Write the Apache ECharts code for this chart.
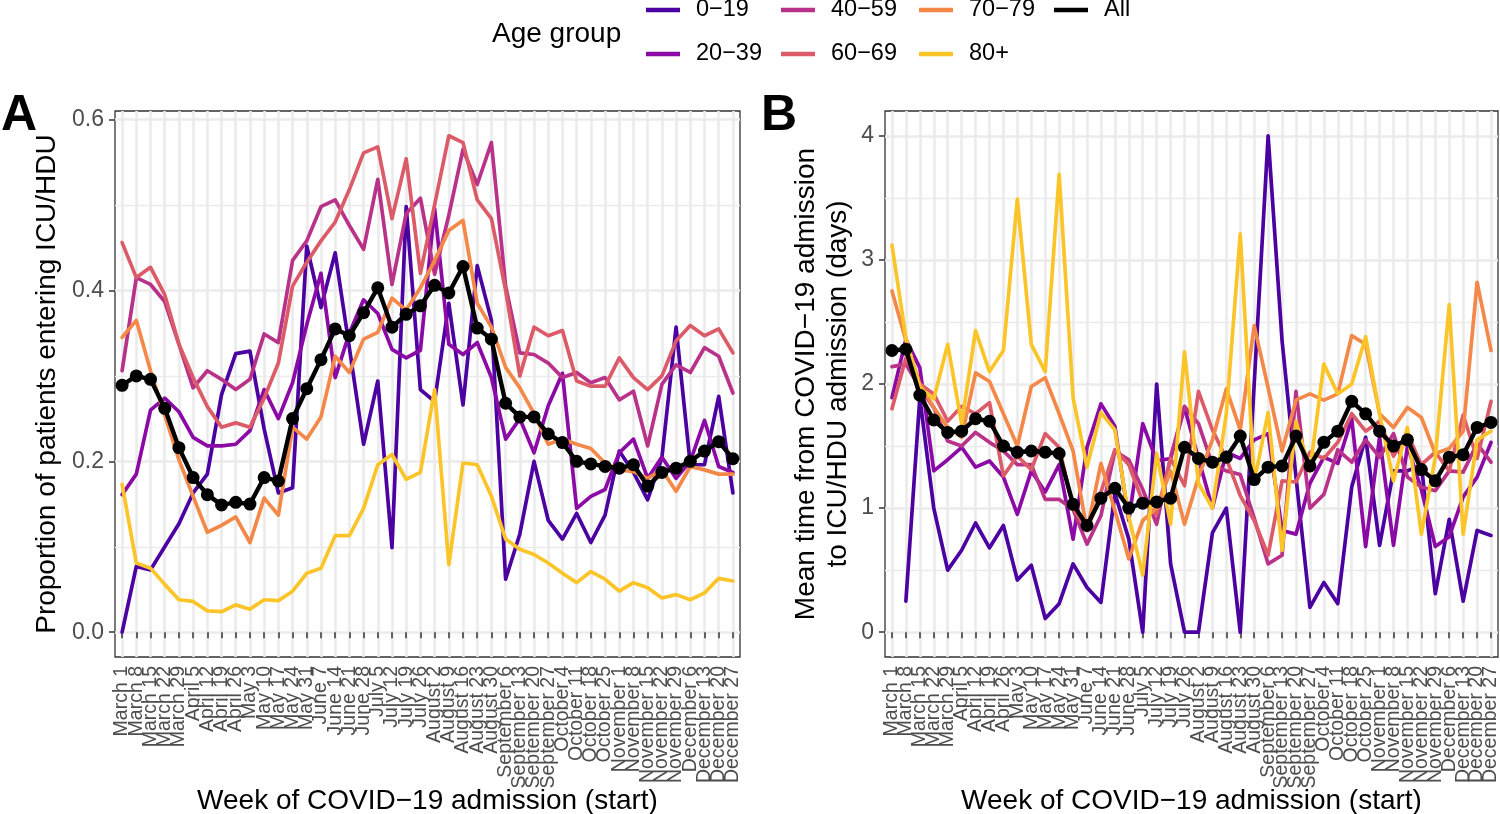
<!DOCTYPE html>
<html>
<head>
<meta charset="utf-8">
<title>ICU/HDU admission by age group</title>
<script src="https://cdn.jsdelivr.net/npm/echarts@6/dist/echarts.min.js"></script>
<style>
html, body { margin: 0; padding: 0; background: #fff; }
#chart { width: 1500px; height: 814px; }
</style>
</head>
<body>
<div id="chart"></div>
<script>
// week starts (x categories, shared by both panels)
var weeks = ['March 1', 'March 8', 'March 15', 'March 22', 'March 29', 'April 5', 'April 12', 'April 19', 'April 26',
    'May 3', 'May 10', 'May 17', 'May 24', 'May 31', 'June 7', 'June 14', 'June 21', 'June 28',
    'July 5', 'July 12', 'July 19', 'July 26', 'August 2', 'August 9', 'August 16', 'August 23', 'August 30',
    'September 6', 'September 13', 'September 20', 'September 27', 'October 4', 'October 11', 'October 18', 'October 25',
    'November 1', 'November 8', 'November 15', 'November 22', 'November 29', 'December 6', 'December 13', 'December 20', 'December 27'];

var ageGroups = ['0−19', '20−39', '40−59', '60−69', '70−79', '80+'];

// A: proportion of patients entering ICU/HDU
var propAll = [0.289, 0.300, 0.296, 0.262, 0.216, 0.181, 0.161, 0.149, 0.152, 0.150, 0.181, 0.177, 0.250, 0.285, 0.319, 0.355, 0.347, 0.374, 0.403, 0.357, 0.372, 0.382, 0.406, 0.397, 0.428, 0.356, 0.343, 0.268, 0.252, 0.252, 0.232, 0.222, 0.200, 0.197, 0.194, 0.192, 0.196, 0.171, 0.187, 0.192, 0.200, 0.212, 0.223, 0.203];
var prop0_19 = [0.000, 0.077, 0.073, 0.100, 0.127, 0.163, 0.185, 0.278, 0.326, 0.329, 0.238, 0.163, 0.169, 0.452, 0.380, 0.444, 0.333, 0.220, 0.294, 0.099, 0.498, 0.284, 0.270, 0.385, 0.266, 0.429, 0.365, 0.062, 0.115, 0.200, 0.131, 0.109, 0.139, 0.105, 0.137, 0.212, 0.187, 0.155, 0.204, 0.357, 0.196, 0.196, 0.276, 0.163];
var prop20_39 = [0.161, 0.185, 0.260, 0.274, 0.258, 0.228, 0.218, 0.218, 0.220, 0.236, 0.284, 0.250, 0.292, 0.360, 0.420, 0.298, 0.350, 0.389, 0.373, 0.331, 0.321, 0.330, 0.496, 0.337, 0.325, 0.339, 0.298, 0.226, 0.250, 0.210, 0.265, 0.303, 0.145, 0.159, 0.167, 0.210, 0.226, 0.180, 0.205, 0.180, 0.200, 0.248, 0.194, 0.187];
var prop40_59 = [0.306, 0.415, 0.407, 0.387, 0.337, 0.286, 0.306, 0.296, 0.284, 0.296, 0.349, 0.339, 0.435, 0.458, 0.498, 0.506, 0.476, 0.448, 0.530, 0.407, 0.490, 0.508, 0.419, 0.488, 0.565, 0.524, 0.573, 0.405, 0.327, 0.325, 0.315, 0.298, 0.304, 0.292, 0.298, 0.272, 0.282, 0.218, 0.290, 0.313, 0.304, 0.333, 0.323, 0.280];
var prop60_69 = [0.456, 0.415, 0.427, 0.395, 0.337, 0.298, 0.264, 0.240, 0.245, 0.240, 0.274, 0.315, 0.405, 0.433, 0.458, 0.480, 0.518, 0.561, 0.568, 0.484, 0.554, 0.420, 0.500, 0.581, 0.573, 0.506, 0.484, 0.400, 0.300, 0.357, 0.347, 0.353, 0.294, 0.288, 0.288, 0.321, 0.298, 0.284, 0.300, 0.341, 0.359, 0.347, 0.355, 0.327];
var prop70_79 = [0.345, 0.365, 0.306, 0.254, 0.202, 0.159, 0.117, 0.125, 0.135, 0.105, 0.157, 0.137, 0.240, 0.226, 0.252, 0.323, 0.304, 0.343, 0.351, 0.391, 0.377, 0.403, 0.435, 0.470, 0.482, 0.385, 0.357, 0.310, 0.286, 0.256, 0.220, 0.226, 0.220, 0.215, 0.198, 0.190, 0.188, 0.180, 0.190, 0.165, 0.194, 0.190, 0.185, 0.185];
var prop80 = [0.173, 0.081, 0.075, 0.056, 0.038, 0.036, 0.025, 0.024, 0.032, 0.027, 0.038, 0.037, 0.048, 0.069, 0.075, 0.113, 0.113, 0.145, 0.196, 0.208, 0.179, 0.187, 0.284, 0.079, 0.198, 0.196, 0.159, 0.109, 0.097, 0.091, 0.081, 0.069, 0.058, 0.071, 0.062, 0.048, 0.058, 0.052, 0.040, 0.044, 0.038, 0.046, 0.063, 0.060];

// B: mean days from COVID-19 admission to ICU/HDU admission
var timeAll = [2.27, 2.28, 1.91, 1.71, 1.61, 1.62, 1.72, 1.70, 1.50, 1.45, 1.46, 1.45, 1.44, 1.03, 0.86, 1.08, 1.16, 1.00, 1.04, 1.05, 1.08, 1.49, 1.40, 1.37, 1.41, 1.58, 1.23, 1.33, 1.34, 1.58, 1.34, 1.53, 1.62, 1.86, 1.76, 1.62, 1.50, 1.55, 1.31, 1.22, 1.41, 1.43, 1.65, 1.69];
var time0_19 = [null, 0.25, 1.89, 1.00, 0.50, 0.66, 0.88, 0.68, 0.86, 0.42, 0.54, 0.11, 0.23, 0.55, 0.36, 0.24, 1.12, 0.75, 0.00, 2.00, 0.55, 0.00, 0.00, 0.80, 1.00, 0.00, 2.00, 4.00, 2.35, 1.25, 0.20, 0.40, 0.23, 1.17, 1.57, 0.70, 1.30, 1.30, 1.35, 0.31, 0.91, 0.25, 0.82, 0.78];
var time20_39 = [1.89, 2.36, 2.13, 1.30, 1.39, 1.49, 1.33, 1.38, 1.25, 0.95, 1.30, 1.13, 1.35, 0.75, 1.49, 1.84, 1.66, 0.90, 1.68, 1.38, 1.40, 1.81, 1.40, 1.00, 1.45, 1.40, 1.55, 1.60, 0.82, 0.79, 1.20, 1.41, 1.36, 1.72, 0.69, 1.57, 0.70, 1.50, 1.15, 0.69, 0.77, 1.09, 1.25, 1.53];
var time40_59 = [2.14, 2.16, 1.97, 1.81, 1.54, 1.50, 1.61, 1.53, 1.46, 1.35, 1.35, 1.07, 1.07, 0.99, 0.71, 0.94, 1.46, 1.39, 1.15, 0.87, 1.41, 1.82, 1.68, 1.35, 1.30, 1.27, 0.92, 0.55, 0.62, 1.94, 1.00, 1.11, 1.47, 1.37, 1.55, 1.41, 1.60, 1.25, 1.17, 1.14, 1.30, 1.29, 1.52, 1.37];
var time60_69 = [1.80, 2.21, 2.00, 1.92, 1.70, 1.82, 1.76, 1.85, 1.26, 1.42, 1.31, 1.60, 1.49, 1.00, 0.82, 1.13, 1.47, 1.35, 1.05, 0.95, 1.40, 1.18, 1.94, 1.63, 1.40, 1.10, 0.90, 0.62, 1.22, 1.21, 1.45, 1.40, 1.53, 1.76, 1.62, 1.70, 1.42, 1.60, 1.35, 1.45, 1.30, 1.75, 1.40, 1.86];
var time70_79 = [2.75, 2.35, 2.00, 1.81, 1.65, 1.57, 2.09, 2.02, 1.76, 1.50, 1.98, 2.05, 1.76, 1.46, 0.82, 1.36, 0.98, 0.59, 0.90, 1.00, 1.30, 0.87, 1.25, 1.55, 1.96, 1.63, 2.47, 1.97, 1.46, 1.87, 1.92, 1.87, 1.92, 2.39, 2.32, 1.76, 1.65, 1.81, 1.73, 1.44, 1.48, 1.62, 2.82, 2.27];
var time80 = [3.12, 2.37, 1.97, 1.88, 2.32, 1.68, 2.43, 2.10, 2.27, 3.49, 2.32, 2.10, 3.69, 1.89, 1.33, 1.77, 1.63, 0.93, 0.46, 1.44, 0.87, 2.26, 1.20, 1.00, 1.76, 3.21, 1.21, 1.77, 0.66, 1.70, 1.30, 2.16, 1.92, 2.00, 2.38, 1.76, 1.22, 1.65, 0.79, 1.41, 2.64, 0.79, 1.55, 1.62];

var ticksA = [0, 0.2, 0.4, 0.6];
var minorA = [0.1, 0.3, 0.5];
var ticksB = [0, 1, 2, 3, 4];
var minorB = [0.5, 1.5, 2.5, 3.5];

var colors = ['#4C02A1', '#8B0AA5', '#B93289', '#DB5C68', '#F48849', '#FBC52A'];
var font = '"Liberation Sans", Arial, sans-serif';
var grey = '#4D4D4D';
var gridCol = '#EBEBEB';

var chart = echarts.init(document.getElementById('chart'));

function xAxisFor(gi) {
    return {
        type: 'category', gridIndex: gi, data: weeks, boundaryGap: true,
        axisLine: { show: false },
        axisTick: { show: true, alignWithLabel: true, interval: 0, length: 6, lineStyle: { color: '#333', width: 1.5 } },
        axisLabel: { interval: 0, rotate: 90, fontSize: 19.5, color: grey, margin: 9, fontFamily: font },
        splitLine: { show: true, interval: 0, alignWithLabel: true, lineStyle: { color: gridCol, width: 2.6 } },
        name: 'Week of COVID−19 admission (start)', nameLocation: 'middle', nameGap: 130, nameMoveOverlap: false,
        nameTextStyle: { fontSize: 28, color: '#000', fontFamily: font }
    };
}

function yMain(gi, min, max, ticks, fmt, name, gap, lh) {
    return {
        type: 'value', gridIndex: gi, min: min, max: max,
        axisLine: { show: false },
        axisTick: { show: true, length: 6, customValues: ticks, lineStyle: { color: '#333', width: 1.5 } },
        axisLabel: { customValues: ticks, formatter: fmt, fontSize: 23, color: grey, margin: 11, fontFamily: font },
        splitLine: { show: true, lineStyle: { color: gridCol, width: 2.6 } },
        name: name, nameLocation: 'middle', nameGap: gap, nameMoveOverlap: false,
        nameTextStyle: { fontSize: 28, color: '#000', fontFamily: font, lineHeight: lh }
    };
}

function yMinor(gi, min, max, ticks) {
    return {
        type: 'value', gridIndex: gi, min: min, max: max,
        axisLine: { show: false },
        axisTick: { show: false, customValues: ticks },
        axisLabel: { show: false, customValues: ticks },
        splitLine: { show: true, lineStyle: { color: gridCol, width: 1.3 } }
    };
}

function groupSeries(name, data, color, xi, yi) {
    return {
        name: name, type: 'line', xAxisIndex: xi, yAxisIndex: yi, data: data,
        showSymbol: false, symbol: 'none', connectNulls: false,
        lineStyle: { width: 3.7, color: color, join: 'round', cap: 'round' },
        itemStyle: { color: color }, emphasis: { disabled: true }, z: 2
    };
}

function allSeries(data, xi, yi) {
    return {
        name: 'All', type: 'line', xAxisIndex: xi, yAxisIndex: yi, data: data,
        symbol: 'circle', symbolSize: 13, showSymbol: true,
        lineStyle: { width: 4.4, color: '#000', join: 'round' },
        itemStyle: { color: '#000' }, emphasis: { disabled: true }, z: 4
    };
}

var dataA = [prop0_19, prop20_39, prop40_59, prop60_69, prop70_79, prop80];
var dataB = [time0_19, time20_39, time40_59, time60_69, time70_79, time80];
var series = [];
ageGroups.forEach(function (g, i) { series.push(groupSeries(g, dataA[i], colors[i], 0, 0)); });
series.push(allSeries(propAll, 0, 0));
ageGroups.forEach(function (g, i) { series.push(groupSeries(g, dataB[i], colors[i], 1, 2)); });
series.push(allSeries(timeAll, 1, 2));

function legendCol(left, names) {
    return {
        left: left, top: -7, orient: 'vertical', itemGap: 20, selectedMode: false,
        icon: 'rect', itemWidth: 34, itemHeight: 4.5,
        textStyle: { fontSize: 23.5, color: '#000', fontFamily: font, padding: [0, 0, 0, 11], lineHeight: 24 },
        data: names
    };
}

chart.setOption({
    animation: false,
    backgroundColor: '#fff',
    textStyle: { fontFamily: font },
    title: [
        { text: 'A', left: -4, top: 86, textStyle: { fontSize: 50, fontWeight: 'bold', color: '#000', fontFamily: font } },
        { text: 'B', left: 756, top: 86, textStyle: { fontSize: 50, fontWeight: 'bold', color: '#000', fontFamily: font } },
        { text: 'Age group', left: 487, top: 15, textStyle: { fontSize: 28, fontWeight: 'normal', color: '#000', fontFamily: font } }
    ],
    legend: [
        legendCol(641, ['0−19', '20−39']),
        legendCol(776, ['40−59', '60−69']),
        legendCol(914, ['70−79', '80+']),
        legendCol(1049, ['All'])
    ],
    grid: [
        { left: 115, top: 111, width: 625, height: 546, outerBoundsMode: 'none', show: true, borderColor: '#333', borderWidth: 1.3, backgroundColor: '#fff' },
        { left: 885, top: 111, width: 613, height: 546, outerBoundsMode: 'none', show: true, borderColor: '#333', borderWidth: 1.3, backgroundColor: '#fff' }
    ],
    xAxis: [xAxisFor(0), xAxisFor(1)],
    yAxis: [
        yMain(0, -0.029, 0.61, ticksA, function (v) { return v.toFixed(1); }, 'Proportion of patients entering ICU/HDU', 53, 30),
        yMinor(0, -0.029, 0.61, minorA),
        yMain(1, -0.2, 4.2, ticksB, function (v) { return String(Math.round(v)); }, 'Mean time from COVID−19 admission\nto ICU/HDU admission (days)', 31, 32),
        yMinor(1, -0.2, 4.2, minorB)
    ],
    series: series
});
</script>
</body>
</html>
